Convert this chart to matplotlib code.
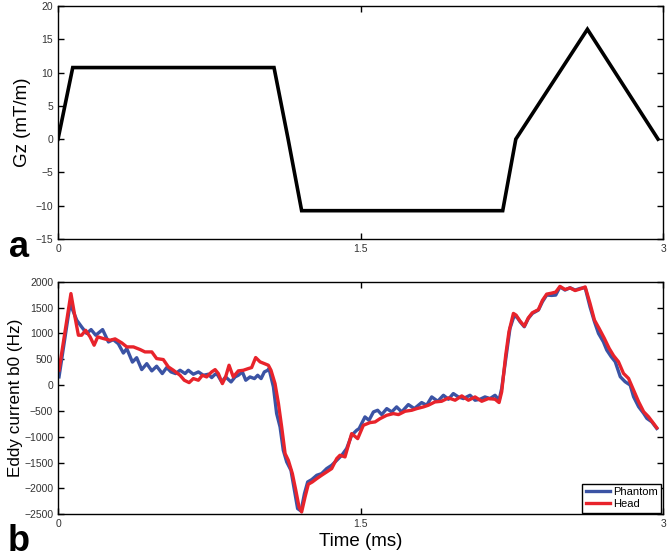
import matplotlib
matplotlib.use("Agg")
import matplotlib.pyplot as plt

plt.rcParams["font.family"] = ["Liberation Sans", "DejaVu Sans"]

# gradient waveform (ms, mT/m)
gz_t = [0.0, 0.073, 1.071, 1.141, 1.208, 2.205, 2.270, 2.625, 2.975]
gz_v = [0.0, 10.75, 10.75, 0.0, -10.75, -10.75, 0.0, 16.5, 0.0]

# eddy current b0, phantom (ms, Hz)
ph_t = [0.005, 0.060, 0.093, 0.117, 0.142, 0.164, 0.187, 0.221, 0.250, 0.274,
        0.299, 0.324, 0.341, 0.369, 0.390, 0.415, 0.440, 0.465, 0.489, 0.517,
        0.539, 0.560, 0.583, 0.605, 0.630, 0.646, 0.671, 0.696, 0.721, 0.745,
        0.762, 0.779, 0.787, 0.812, 0.831, 0.858, 0.878, 0.894, 0.914, 0.931,
        0.952, 0.974, 0.990, 1.007, 1.023, 1.040, 1.046, 1.068, 1.084, 1.101,
        1.117, 1.134, 1.155, 1.172, 1.188, 1.205, 1.222, 1.238, 1.258, 1.283,
        1.307, 1.332, 1.357, 1.382, 1.407, 1.431, 1.456, 1.481, 1.493, 1.522,
        1.542, 1.564, 1.585, 1.605, 1.630, 1.655, 1.679, 1.704, 1.737, 1.767,
        1.803, 1.828, 1.853, 1.883, 1.911, 1.936, 1.960, 1.985, 2.010, 2.043,
        2.068, 2.093, 2.117, 2.142, 2.167, 2.187, 2.200, 2.220, 2.241, 2.258,
        2.271, 2.291, 2.312, 2.332, 2.352, 2.382, 2.402, 2.423, 2.448, 2.468,
        2.489, 2.514, 2.539, 2.564, 2.589, 2.614, 2.638, 2.660, 2.680, 2.704,
        2.721, 2.743, 2.763, 2.788, 2.812, 2.837, 2.854, 2.879, 2.904, 2.920,
        2.944, 2.969]
ph_v = [160, 1577, 1255, 1126, 1000, 1074, 965, 1074, 835, 880,
        800, 620, 705, 445, 530, 300, 415, 275, 365, 223,
        340, 255, 223, 287, 223, 287, 210, 255, 190, 210,
        145, 210, 223, 61, 158, 61, 158, 190, 255, 94,
        158, 126, 190, 126, 255, 287, 320, -34, -550, -810,
        -1261, -1487, -1648, -2035, -2390, -2436, -2100, -1874, -1829, -1745,
        -1713, -1616, -1552, -1455, -1358, -1229, -971, -874, -842, -616,
        -681, -519, -487, -571, -455, -519, -422, -519, -377, -455,
        -338, -390, -229, -313, -197, -274, -164, -229, -261, -197,
        -293, -274, -229, -261, -197, -293, -64, 500, 1097, 1300,
        1342, 1226, 1129, 1290, 1387, 1452, 1613, 1742, 1735, 1742,
        1900, 1839, 1884, 1839, 1871, 1884, 1513, 1226, 1000, 839,
        678, 549, 452, 162, 65, 0, -226, -419, -548, -645,
        -710, -839]

# eddy current b0, head (ms, Hz)
hd_t = [0.005, 0.064, 0.084, 0.101, 0.117, 0.137, 0.159, 0.179, 0.197, 0.225,
        0.258, 0.283, 0.316, 0.341, 0.374, 0.407, 0.431, 0.465, 0.489, 0.522,
        0.547, 0.572, 0.605, 0.626, 0.650, 0.671, 0.696, 0.716, 0.737, 0.762,
        0.779, 0.795, 0.815, 0.831, 0.848, 0.869, 0.894, 0.919, 0.944, 0.960,
        0.980, 1.002, 1.023, 1.043, 1.056, 1.076, 1.093, 1.109, 1.126, 1.142,
        1.162, 1.179, 1.195, 1.208, 1.225, 1.241, 1.261, 1.283, 1.307, 1.332,
        1.357, 1.382, 1.398, 1.423, 1.456, 1.486, 1.514, 1.547, 1.572, 1.597,
        1.630, 1.663, 1.688, 1.721, 1.754, 1.779, 1.812, 1.836, 1.869, 1.902,
        1.936, 1.969, 2.002, 2.035, 2.068, 2.101, 2.134, 2.167, 2.187, 2.200,
        2.220, 2.236, 2.258, 2.271, 2.291, 2.312, 2.332, 2.352, 2.382, 2.402,
        2.423, 2.448, 2.468, 2.489, 2.514, 2.539, 2.564, 2.589, 2.614, 2.638,
        2.660, 2.683, 2.709, 2.733, 2.755, 2.779, 2.804, 2.829, 2.854, 2.879,
        2.904, 2.928, 2.953, 2.969]
hd_v = [290, 1771, 1320, 965, 965, 1060, 933, 772, 933, 900,
        868, 894, 817, 739, 739, 688, 642, 642, 513, 494,
        352, 287, 190, 94, 48, 126, 94, 190, 158, 255,
        300, 223, 29, 158, 384, 158, 275, 287, 320, 339,
        533, 449, 416, 384, 287, 29, -358, -810, -1326, -1455,
        -1713, -2035, -2358, -2455, -2164, -1919, -1874, -1810, -1745, -1681,
        -1616, -1422, -1358, -1390, -939, -1036, -778, -726, -713, -649,
        -584, -552, -571, -506, -487, -455, -422, -390, -326, -313,
        -248, -293, -209, -293, -229, -313, -261, -274, -338, -129,
        581, 1032, 1387, 1355, 1240, 1140, 1300, 1400, 1460, 1640,
        1760, 1780, 1800, 1910, 1850, 1880, 1830, 1860, 1900, 1581,
        1258, 1097, 904, 710, 568, 452, 226, 129, -97, -323,
        -516, -613, -742, -826]

x_ticks = [0, 1.5, 3]
x_labels = ["0", "1.5", "3"]

fig = plt.figure(figsize=(6.7, 5.59), dpi=100)
ax1 = fig.add_axes([0.0866, 0.5725, 0.903, 0.4168])
ax2 = fig.add_axes([0.0866, 0.080, 0.903, 0.416])

for ax in (ax1, ax2):
    ax.set_xlim(0, 3)
    ax.set_xticks(x_ticks)
    ax.set_xticklabels(x_labels)
    ax.tick_params(direction="in", top=True, right=True, length=4,
                   width=1, labelsize=7.5, colors="black", labelcolor="#333333")
    for s in ax.spines.values():
        s.set_linewidth(1.0)

ax1.plot(gz_t, gz_v, color="black", lw=2.6, solid_joinstyle="miter")
ax1.set_ylim(-15, 20)
ax1.set_yticks(range(-15, 21, 5))
ax1.set_ylabel("Gz (mT/m)", fontsize=13.5, labelpad=3)

ax2.plot(ph_t, ph_v, color="#3b53a4", lw=2.4, label="Phantom")
ax2.plot(hd_t, hd_v, color="#e8232b", lw=2.4, label="Head")
ax2.set_ylim(-2500, 2000)
ax2.set_yticks(range(-2500, 2001, 500))
ax2.set_ylabel("Eddy current b0 (Hz)", fontsize=12.3, labelpad=1)
ax2.set_xlabel("Time (ms)", fontsize=13.5, labelpad=3)

leg = ax2.legend(loc="lower right", fontsize=8, handlelength=2.2,
                 handletextpad=0.3, borderaxespad=0.15, borderpad=0.3,
                 labelspacing=0.2, fancybox=False, framealpha=1)
leg.get_frame().set_edgecolor("black")
leg.get_frame().set_linewidth(1.0)

fig.text(0.028, 0.557, "a", fontsize=26, fontweight="bold", ha="center", va="center")
fig.text(0.028, 0.032, "b", fontsize=26, fontweight="bold", ha="center", va="center")

fig.savefig("out.png", dpi=100)
